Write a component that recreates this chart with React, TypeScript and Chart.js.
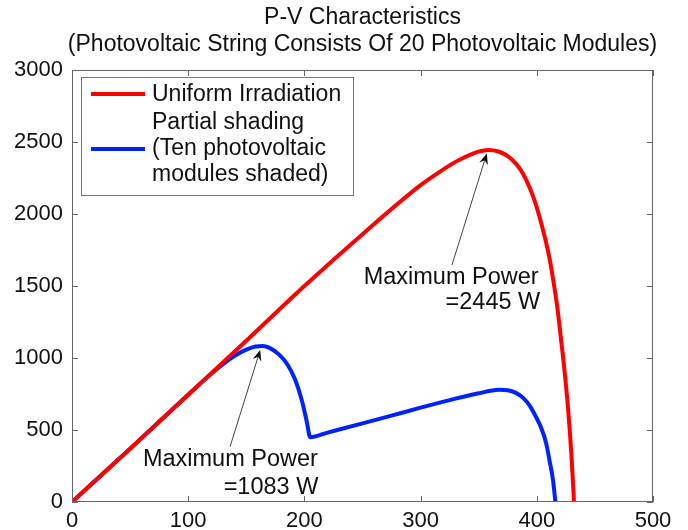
import React, { useEffect, useRef } from "react";
import { Chart, registerables } from "chart.js";

Chart.register(...registerables);

// ---- Data ----
const uniformVoltage = [0, 50, 100, 150, 200, 250, 300, 315, 330, 345, 352, 359, 367, 375, 382, 388, 394, 399, 405, 410, 414, 418, 421, 424, 427, 430, 432];
const uniformPower = [0, 370, 745, 1120, 1500, 1860, 2200, 2285, 2362, 2420, 2437, 2445, 2434, 2402, 2350, 2282, 2180, 2070, 1900, 1730, 1550, 1330, 1120, 900, 640, 300, 0];

const shadedVoltage = [0, 50, 100, 125, 140, 150, 158, 164, 170, 178, 185, 192, 198, 202, 205, 220, 250, 275, 300, 330, 350, 360, 368, 375, 382, 388, 394, 400, 404, 408, 411, 414, 416];
const shadedPower = [0, 370, 745, 925, 1015, 1058, 1080, 1083, 1070, 1025, 960, 850, 700, 560, 450, 482, 546, 600, 655, 718, 755, 772, 779, 776, 758, 725, 668, 580, 510, 410, 285, 150, 0];

const xTicks = [0, 100, 200, 300, 400, 500];
const yTicks = [0, 500, 1000, 1500, 2000, 2500, 3000];

const titleLines = ["P-V Characteristics", "(Photovoltaic String Consists Of 20 Photovoltaic Modules)"];
const legendUniform = ["Uniform Irradiation"];
const legendShaded = ["Partial shading", "(Ten photovoltaic", "modules shaded)"];

// first line left-anchored, second line right-anchored (data coords)
const annoUniform = {
  lines: [
    { text: "Maximum Power", v: 251, p: 1562, align: "left" },
    { text: "=2445 W", v: 403, p: 1382, align: "right" },
  ],
  tail: { v: 327, p: 1646 },
  tip: { v: 357, p: 2421 },
};
const annoShaded = {
  lines: [
    { text: "Maximum Power", v: 61, p: 292, align: "left" },
    { text: "=1083 W", v: 212, p: 104, align: "right" },
  ],
  tail: { v: 136, p: 384 },
  tip: { v: 162, p: 1056 },
};

const FONT = "'Liberation Sans', Arial, Helvetica, sans-serif";

function drawArrow(ctx: CanvasRenderingContext2D, x1: number, y1: number, x2: number, y2: number) {
  const ang = Math.atan2(y2 - y1, x2 - x1);
  const len = 11;
  const half = 4.5;
  ctx.save();
  ctx.strokeStyle = "#444";
  ctx.lineWidth = 1;
  ctx.beginPath();
  ctx.moveTo(x1, y1);
  ctx.lineTo(x2 - Math.cos(ang) * len * 0.6, y2 - Math.sin(ang) * len * 0.6);
  ctx.stroke();
  ctx.fillStyle = "#111";
  ctx.beginPath();
  ctx.moveTo(x2, y2);
  const bx = x2 - Math.cos(ang) * len;
  const by = y2 - Math.sin(ang) * len;
  ctx.lineTo(bx + Math.sin(ang) * half, by - Math.cos(ang) * half);
  ctx.lineTo(x2 - Math.cos(ang) * len * 0.65, y2 - Math.sin(ang) * len * 0.65);
  ctx.lineTo(bx - Math.sin(ang) * half, by + Math.cos(ang) * half);
  ctx.closePath();
  ctx.fill();
  ctx.restore();
}

const decorPlugin = {
  id: "decor",
  afterDraw(chart: any) {
    const ctx: CanvasRenderingContext2D = chart.ctx;
    const xs = chart.scales.x;
    const ys = chart.scales.y;
    const { left, right, top, bottom } = chart.chartArea;

    // Box + inward ticks
    ctx.save();
    ctx.strokeStyle = "#666";
    ctx.lineWidth = 1;
    ctx.strokeRect(left + 0.5, top + 0.5, right - left - 1, bottom - top - 1);
    ctx.beginPath();
    xTicks.forEach((t) => {
      const px = Math.round(xs.getPixelForValue(t)) + 0.5;
      ctx.moveTo(px, bottom);
      ctx.lineTo(px, bottom - 6);
      ctx.moveTo(px, top);
      ctx.lineTo(px, top + 6);
    });
    yTicks.forEach((t) => {
      const py = Math.round(ys.getPixelForValue(t)) + 0.5;
      ctx.moveTo(left, py);
      ctx.lineTo(left + 6, py);
      ctx.moveTo(right, py);
      ctx.lineTo(right - 6, py);
    });
    ctx.stroke();
    ctx.restore();

    // Title
    ctx.save();
    ctx.fillStyle = "#111";
    ctx.font = `23px ${FONT}`;
    ctx.textAlign = "center";
    ctx.textBaseline = "middle";
    const cx = (left + right) / 2;
    ctx.fillText(titleLines[0], cx, 18);
    ctx.fillText(titleLines[1], cx, 45);
    ctx.restore();

    // Legend
    ctx.save();
    const lx = 81, ly = 77, lw = 272, lh = 118;
    ctx.fillStyle = "#fff";
    ctx.fillRect(lx, ly, lw, lh);
    ctx.strokeStyle = "#777";
    ctx.lineWidth = 1;
    ctx.strokeRect(lx + 0.5, ly + 0.5, lw, lh);
    ctx.lineWidth = 4;
    ctx.strokeStyle = "#ff0000";
    ctx.beginPath();
    ctx.moveTo(91, 94);
    ctx.lineTo(145, 94);
    ctx.stroke();
    ctx.strokeStyle = "#0022ff";
    ctx.beginPath();
    ctx.moveTo(91, 149);
    ctx.lineTo(145, 149);
    ctx.stroke();
    ctx.fillStyle = "#111";
    ctx.font = `23px ${FONT}`;
    ctx.textAlign = "left";
    ctx.textBaseline = "middle";
    ctx.fillText(legendUniform[0], 152, 95);
    ctx.fillText(legendShaded[0], 152, 123);
    ctx.fillText(legendShaded[1], 152, 149);
    ctx.fillText(legendShaded[2], 152, 175);
    ctx.restore();

    // Annotations
    [annoUniform, annoShaded].forEach((a) => {
      drawArrow(
        ctx,
        xs.getPixelForValue(a.tail.v),
        ys.getPixelForValue(a.tail.p),
        xs.getPixelForValue(a.tip.v),
        ys.getPixelForValue(a.tip.p)
      );
      ctx.save();
      ctx.fillStyle = "#111";
      ctx.font = `23.5px ${FONT}`;
      ctx.textBaseline = "middle";
      a.lines.forEach((l) => {
        ctx.textAlign = l.align as CanvasTextAlign;
        ctx.fillText(l.text, xs.getPixelForValue(l.v), ys.getPixelForValue(l.p));
      });
      ctx.restore();
    });
  },
};

export default function App() {
  const ref = useRef<HTMLCanvasElement | null>(null);

  useEffect(() => {
    if (!ref.current) return;
    const chart = new Chart(ref.current, {
      type: "line",
      data: {
        datasets: [
          {
            label: legendUniform[0],
            data: uniformVoltage.map((v, i) => ({ x: v, y: uniformPower[i] })),
            borderColor: "#ff0000",
            borderWidth: 4,
            pointRadius: 0,
            cubicInterpolationMode: "monotone",
            fill: false,
          },
          {
            label: legendShaded.join(" "),
            data: shadedVoltage.map((v, i) => ({ x: v, y: shadedPower[i] })),
            borderColor: "#0022ff",
            borderWidth: 4,
            pointRadius: 0,
            cubicInterpolationMode: "monotone",
            fill: false,
          },
        ],
      },
      options: {
        animation: false,
        responsive: false,
        maintainAspectRatio: false,
        layout: { padding: { top: 70, right: 35, left: 0, bottom: 0 } },
        plugins: {
          legend: { display: false },
          title: { display: false },
          tooltip: { enabled: false },
        },
        scales: {
          x: {
            type: "linear",
            min: 0,
            max: 500,
            afterBuildTicks: (s: any) => {
              s.ticks = xTicks.map((v) => ({ value: v }));
            },
            afterFit: (s: any) => {
              s.height = 28;
            },
            grid: { display: false, drawTicks: false },
            border: { display: false },
            ticks: {
              color: "#111",
              padding: 6,
              maxRotation: 0,
              font: { family: FONT, size: 22 },
              callback: (v: any) => String(v),
            },
          },
          y: {
            type: "linear",
            min: 0,
            max: 3000,
            afterBuildTicks: (s: any) => {
              s.ticks = yTicks.map((v) => ({ value: v }));
            },
            afterFit: (s: any) => {
              s.width = 72;
            },
            grid: { display: false, drawTicks: false },
            border: { display: false },
            ticks: {
              color: "#111",
              padding: 9,
              font: { family: FONT, size: 22 },
              callback: (v: any) => String(v),
            },
          },
        },
      },
      plugins: [decorPlugin],
    });
    return () => chart.destroy();
  }, []);

  return (
    <div style={{ position: "fixed", left: 0, top: 0, width: 688, height: 530, background: "#fff" }}>
      <canvas ref={ref} width={688} height={530} style={{ width: 688, height: 530 }} />
    </div>
  );
}
